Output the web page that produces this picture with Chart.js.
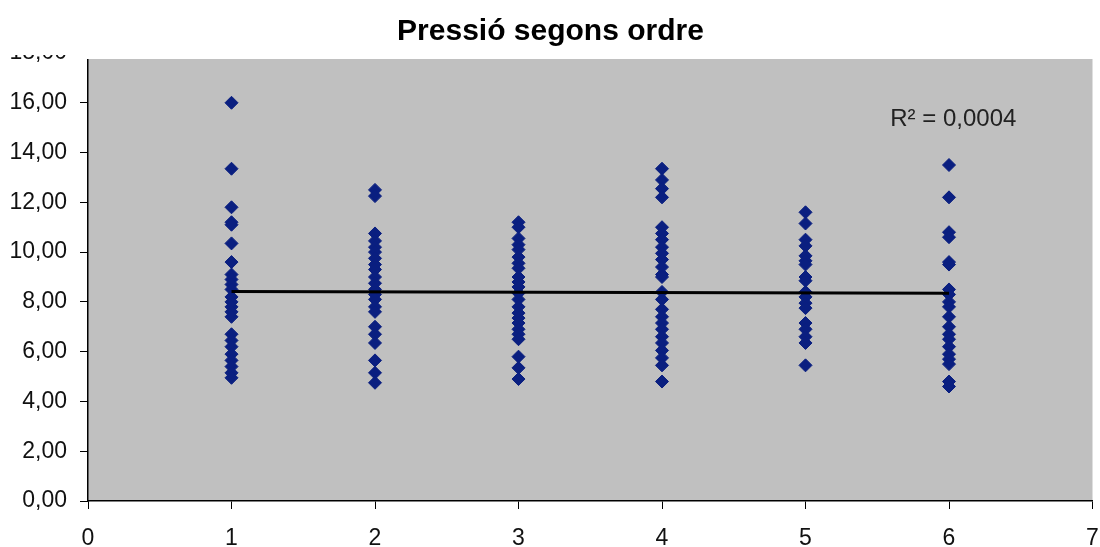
<!DOCTYPE html>
<html>
<head>
<meta charset="utf-8">
<script src="https://cdn.jsdelivr.net/npm/chart.js@4/dist/chart.umd.min.js"></script>
<style>
  html, body { margin: 0; padding: 0; background: #fff; }
  #wrap { width: 1100px; height: 547px; }
</style>
</head>
<body>
<div id="wrap"><canvas id="chart_pressio"></canvas></div>
<script>
// ordre (x) i pressions llegides per a cada ordre
var ordres = [1, 2, 3, 4, 5, 6];
var pressio1 = [16.0, 13.35, 11.8, 11.2, 11.1, 10.35, 9.6, 9.1, 8.9, 8.7, 8.5, 8.2, 8.0, 7.8, 7.6, 7.4, 6.7, 6.45, 6.2, 5.9, 5.65, 5.4, 5.15, 4.95];
var pressio2 = [12.5, 12.25, 10.75, 10.45, 10.2, 10.0, 9.75, 9.5, 9.3, 9.0, 8.75, 8.5, 8.3, 8.1, 7.8, 7.6, 7.0, 6.7, 6.35, 5.65, 5.15, 4.75];
var pressio3 = [11.2, 11.0, 10.55, 10.3, 10.1, 9.8, 9.55, 9.35, 9.0, 8.8, 8.6, 8.35, 8.1, 7.8, 7.55, 7.35, 7.15, 6.9, 6.7, 6.5, 5.8, 5.35, 4.9];
var pressio4 = [13.35, 12.9, 12.55, 12.2, 11.0, 10.75, 10.5, 10.2, 9.95, 9.7, 9.4, 9.1, 9.0, 8.4, 8.1, 7.7, 7.4, 7.15, 6.9, 6.6, 6.35, 6.05, 5.75, 5.45, 4.8];
var pressio5 = [11.6, 11.15, 10.5, 10.25, 9.85, 9.65, 9.5, 9.0, 8.85, 8.4, 8.2, 7.95, 7.75, 7.15, 6.9, 6.6, 6.35, 5.45];
var pressio6 = [13.5, 12.2, 10.8, 10.6, 9.6, 9.5, 8.5, 8.3, 8.0, 7.8, 7.4, 7.0, 6.7, 6.5, 6.2, 5.9, 5.7, 5.5, 4.8, 4.6];
var pressions = [pressio1, pressio2, pressio3, pressio4, pressio5, pressio6];

// linia de tendencia (extrems llegits del grafic)
var tendenciaX = [1, 6];
var tendenciaY = [8.42, 8.35];
var r2Text = 'R\u00B2 = 0,0004';

var punts = [];
pressions.map(function(col, i){
	col.map(function(v){
		punts.push({ x: ordres[i], y: v });
	});
});
var tendencia = tendenciaX.map(function(x, i){
	return { x: x, y: tendenciaY[i] };
});

var fons = {
	id: 'fons',
	beforeDraw: function(chart) {
		var a = chart.chartArea, ctx = chart.ctx;
		ctx.save();
		ctx.fillStyle = '#c0c0c0';
		ctx.fillRect(a.left, a.top, a.right - a.left, a.bottom - a.top);
		ctx.restore();
	},
	afterDraw: function(chart) {
		var ctx = chart.ctx, a = chart.chartArea;
		var sx = chart.scales.x, sy = chart.scales.y;
		ctx.save();
		// retall superior com a l'original
		ctx.fillStyle = '#fff';
		ctx.fillRect(0, 40, 78, 15);
		ctx.fillRect(78, a.top - 1, chart.width - 78, 59 - a.top + 1);
		// R2
		ctx.fillStyle = '#222';
		ctx.font = '24px "Liberation Sans", Arial, sans-serif';
		ctx.textAlign = 'center';
		ctx.textBaseline = 'middle';
		ctx.fillText(r2Text, sx.getPixelForValue(6.03), sy.getPixelForValue(15.35));
		ctx.restore();
	}
};

window.chartPressio = new Chart(document.getElementById('chart_pressio'), {
	type: 'scatter',
	data: {
		datasets: [
			{
				type: 'line',
				label: 'Tendencia',
				data: tendencia,
				borderColor: '#000',
				borderWidth: 3,
				pointRadius: 0,
				fill: false,
				order: 0
			},
			{
				label: 'Pressió',
				data: punts,
				pointStyle: 'rectRot',
				pointRadius: 6.5,
				backgroundColor: '#0a1f80',
				borderColor: '#0a1f80',
				borderWidth: 1,
				order: 1
			}
		]
	},
	plugins: [fons],
	options: {
		responsive: true,
		maintainAspectRatio: false,
		animation: false,
		layout: { padding: { left: 8, right: 7, top: 0, bottom: 0 } },
		plugins: {
			legend: { display: false },
			tooltip: { enabled: false },
			title: {
				display: true,
				text: 'Pressió segons ordre',
				color: '#000',
				font: { family: '"Liberation Sans", Arial, sans-serif', size: 30, weight: 'bold', lineHeight: 1.2 },
				padding: { top: 14, bottom: 3 }
			}
		},
		scales: {
			x: {
				type: 'linear',
				min: 0,
				max: 7,
				afterFit: function(scale){ scale.height = 46; scale.paddingRight = 0; },
				grid: { display: true, drawOnChartArea: false, drawTicks: true, tickLength: 8, color: '#000' },
				border: { display: true, color: '#000', width: 1.5 },
				ticks: {
					stepSize: 1,
					padding: 18,
					color: '#111',
					font: { family: '"Liberation Sans", Arial, sans-serif', size: 23, lineHeight: 1 }
				}
			},
			y: {
				min: 0,
				max: 18,
				afterFit: function(scale){ scale.width = 80; },
				grid: { display: true, drawOnChartArea: false, drawTicks: true, tickLength: 8, color: '#000' },
				border: { display: true, color: '#000', width: 1.5 },
				ticks: {
					stepSize: 2,
					padding: 13,
					color: '#111',
					font: { family: '"Liberation Sans", Arial, sans-serif', size: 23, lineHeight: 1 },
					callback: function(v){ return v.toFixed(2).replace('.', ','); }
				}
			}
		}
	}
});
</script>
</body>
</html>
